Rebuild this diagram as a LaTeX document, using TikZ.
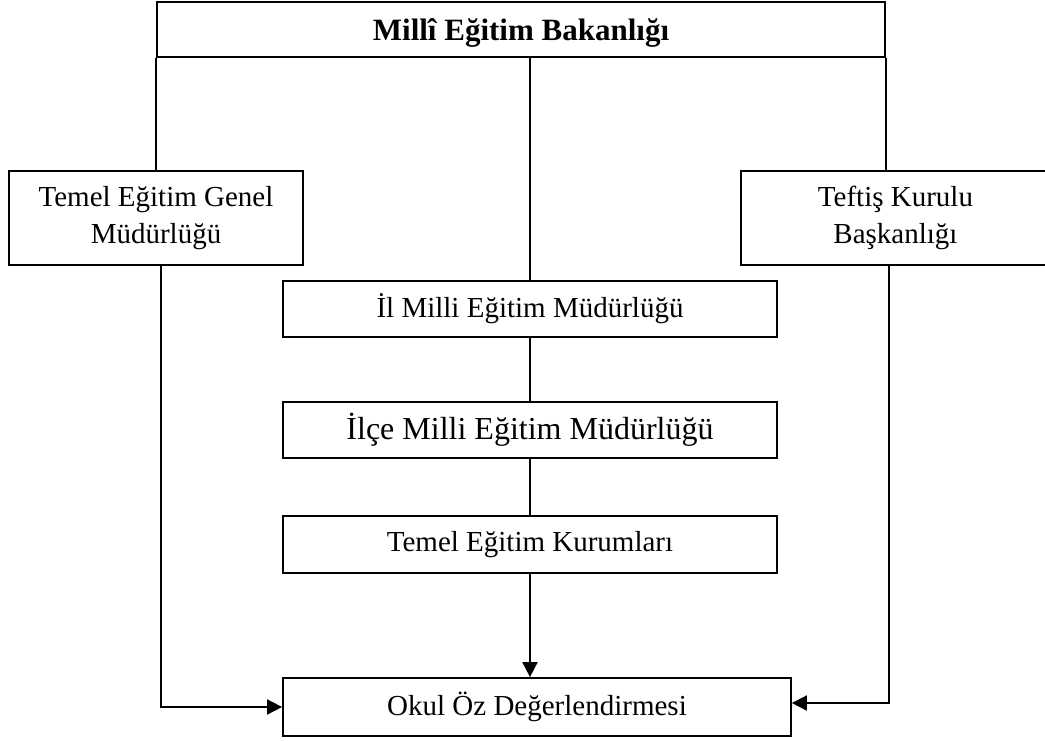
\documentclass[tikz,border=0pt]{standalone}
\usepackage{fontspec}
\setmainfont{Liberation Serif}
\usetikzlibrary{arrows.meta}
\begin{document}
\begin{tikzpicture}[x=1pt,y=-1pt,
  box/.style={draw,line width=1.7pt,rectangle,inner sep=0pt,align=center,
    font=\fontsize{29}{37}\selectfont},
  conn/.style={line width=1.6pt},
  arr/.style={line width=1.6pt,-{Triangle[length=15pt,width=15pt]}}]
\clip (0,0) rectangle (1045,740);
\node[box,minimum width=728pt,minimum height=55pt] (mb) at (521,29.5) {};
\node[font=\fontsize{31}{37}\selectfont\bfseries,inner sep=0pt] (mbt) at ([yshift=-3pt]mb.center) {Millî Eğitim Bakanlığı};
\node[box,minimum width=294pt,minimum height=94pt] (tg) at (156,218) {Temel Eğitim Genel\\Müdürlüğü};
\node[box,minimum width=309pt,minimum height=94pt] (tk) at (895.5,218) {Teftiş Kurulu\\Başkanlığı};
\node[box,minimum width=494pt,minimum height=56pt] (il) at (530,309) {İl Milli Eğitim Müdürlüğü};
\node[box,minimum width=494pt,minimum height=56pt,font=\fontsize{32}{37}\selectfont] (ilce) at (530,430) {İlçe Milli Eğitim Müdürlüğü};
\node[box,minimum width=494pt,minimum height=57pt] (tek) at (530,544.5) {Temel Eğitim Kurumları};
\node[box,minimum width=508pt,minimum height=58pt] (okul) at (537,707) {Okul Öz Değerlendirmesi};
\draw[conn] (mb.south west) -- (mb.south west |- tg.north);
\draw[conn] (mb.south east) -- (mb.south east |- tk.north);
\draw[conn] (il.north) -- (il.north |- mb.south);
\draw[conn] (il.south) -- (ilce.north);
\draw[conn] (ilce.south) -- (tek.north);
\draw[arr] (tek.south) -- (tek.south |- okul.north);
\draw[arr] ([xshift=5pt]tg.south) |- (okul.west);
\draw[arr] ([xshift=-6.5pt]tk.south) |- ([yshift=4pt]okul.east);
\end{tikzpicture}
\end{document}
